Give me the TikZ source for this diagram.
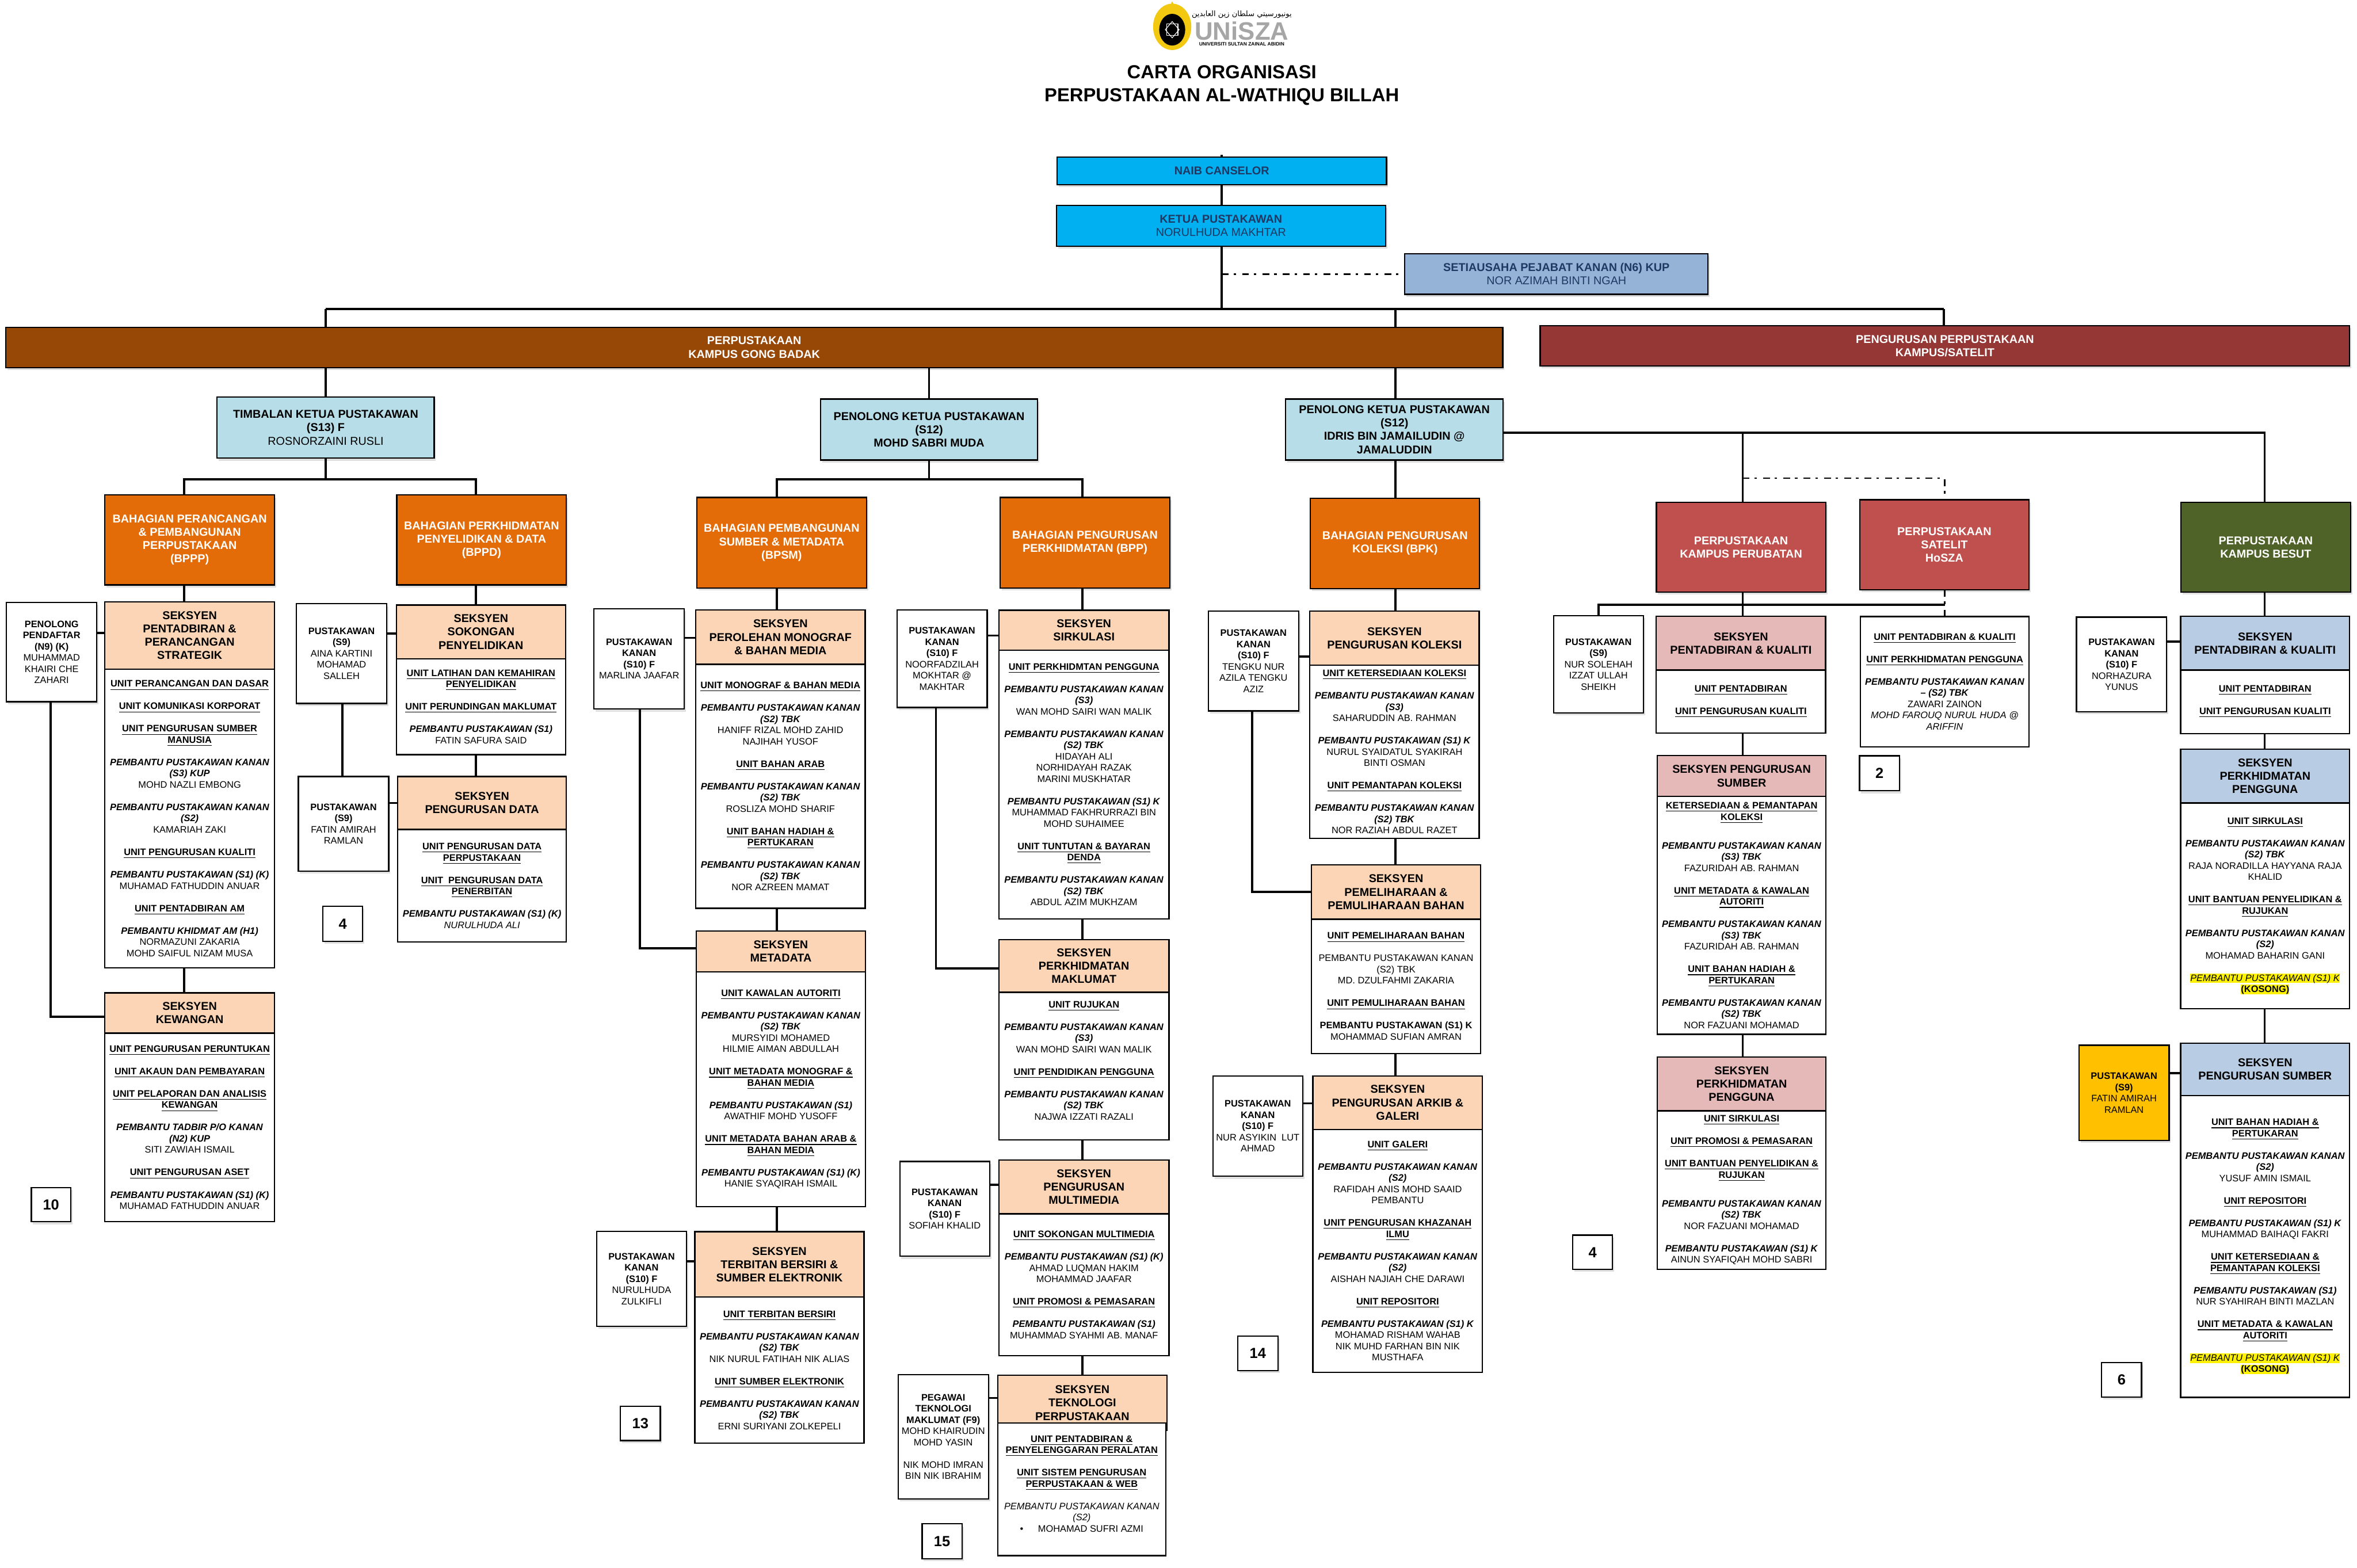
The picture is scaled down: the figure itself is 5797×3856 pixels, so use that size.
\documentclass[tikz,border=0pt]{standalone}
\usepackage{fontspec}
\setmainfont{Liberation Sans}
\newfontfamily\arabicfont[Script=Arabic]{DejaVu Sans}
\TeXXeTstate=1
\usetikzlibrary{shadows}

\definecolor{vcblue}{HTML}{00B0F0}
\definecolor{navytext}{HTML}{1F3864}
\definecolor{setiablue}{HTML}{95B3D7}
\definecolor{gongbrown}{HTML}{974706}
\definecolor{satmaroon}{HTML}{953735}
\definecolor{titleblue}{HTML}{B7DEE8}
\definecolor{bahorange}{HTML}{E36C09}
\definecolor{peach}{HTML}{FBD5B5}
\definecolor{kampusred}{HTML}{C0504D}
\definecolor{pink}{HTML}{E5B9B7}
\definecolor{besutgreen}{HTML}{4F6228}
\definecolor{lightblue}{HTML}{B8CCE4}
\definecolor{amber}{HTML}{FFC000}
\definecolor{logogold}{HTML}{F2C811}
\definecolor{logogrey}{HTML}{A6A6A6}

\newcommand{\fbody}{\fontsize{5.8}{6.9}\selectfont}
\newcommand{\fhead}{\fontsize{7}{8.2}\selectfont\bfseries}
\newcommand{\un}[1]{\underline{\textbf{#1}}}
\newcommand{\pk}[1]{\textbf{\textit{#1}}}
\newcommand{\hl}[1]{{\setlength{\fboxsep}{0pt}\colorbox{yellow}{\rule[-0.9pt]{0pt}{5.6pt}#1}}}

\tikzset{
  orgbox/.style={draw=black,line width=0.8pt,inner sep=0pt,outer sep=0pt,align=center,font=\fbody},
  wh/.style 2 args={minimum width=#1*0.25pt,minimum height=#2*0.25pt},
  shdw/.style={drop shadow={shadow xshift=1pt,shadow yshift=-1.5pt,opacity=.25}},
  topbox/.style={orgbox,shdw,fill=#1,font=\fhead,text=navytext},
  bandbox/.style={orgbox,shdw,fill=#1,font=\fhead,text=white},
  titlebox/.style={orgbox,shdw,fill=titleblue,font=\fhead},
  hdrbox/.style={orgbox,fill=#1,font=\fhead},
  bodybox/.style={orgbox,fill=white},
  stafbox/.style={orgbox,shdw,fill=white},
  numbox/.style={orgbox,shdw,fill=white,font=\fontsize{9}{10}\selectfont\bfseries},
  link/.style={line width=1.3pt},
  dashlink/.style={line width=1pt,dash pattern=on 4.2pt off 3pt on 1.5pt off 3.8pt}
}

\begin{document}
\begin{tikzpicture}[x=0.25pt,y=0.25pt,yscale=-1,xscale=1]
\useasboundingbox (0,0) rectangle (5797,3856);

%Logo
\fill[logogold] (2883,66) ellipse [x radius=47,y radius=57];
\fill[logogold] (2883,3) -- (2873,24) -- (2893,24) -- cycle;
\fill[black] (2883,73) ellipse [x radius=32,y radius=39];
\draw[white,line width=0.4pt] (2883,53) -- (2900,73) -- (2883,93) -- (2866,73) -- cycle;
\draw[white,line width=0.4pt] (2869,59) rectangle (2897,87);
\node[inner sep=0pt,font=\fontsize{4.6}{5}\selectfont] (logojawi) at (3054,36) {\arabicfont\beginR يونيورسيتي سلطان زين العابدين\endR};
\node[inner sep=0pt,text=logogrey,font=\fontsize{15.5}{16}\selectfont\bfseries] (logoname) at (3054,76) {UNiSZA};
\node[inner sep=0pt,font=\fontsize{3}{3}\selectfont\bfseries] (logouni) at (3054,108) {UNIVERSITI SULTAN ZAINAL ABIDIN};

%Title
\node[align=center,inner sep=0pt,font=\fontsize{11.6}{14}\selectfont\bfseries] (title) at (3005,210) {CARTA ORGANISASI\\PERPUSTAKAAN AL-WATHIQU BILLAH};

%Top boxes
\node[topbox=vcblue,wh={810}{68}] (naib) at (3005,420) {NAIB CANSELOR};
\node[topbox=vcblue,wh={810}{101}] (ketua) at (3003,555.5) {KETUA PUSTAKAWAN\\\mdseries NORULHUDA MAKHTAR};
\node[topbox=setiablue,wh={746}{100}] (setia) at (3828,674) {SETIAUSAHA PEJABAT KANAN (N6) KUP\\\mdseries NOR AZIMAH BINTI NGAH};
\node[bandbox=gongbrown,wh={3682}{99}] (gong) at (1855,854.5) {PERPUSTAKAAN\\KAMPUS GONG BADAK};
\node[bandbox=satmaroon,wh={1991}{99}] (satband) at (4783.5,850.5) {PENGURUSAN PERPUSTAKAAN\\KAMPUS/SATELIT};

%Deputies
\node[titlebox,wh={534}{150.5}] (timbalan) at (801,1051.75) {TIMBALAN KETUA PUSTAKAWAN\\(S13) F\\\mdseries ROSNORZAINI RUSLI};
\node[titlebox,wh={534}{150}] (sabri) at (2285,1056.5) {PENOLONG KETUA PUSTAKAWAN\\(S12)\\MOHD SABRI MUDA};
\node[titlebox,wh={535}{150}] (idris) at (3429.5,1056.5) {PENOLONG KETUA PUSTAKAWAN\\(S12)\\IDRIS BIN JAMAILUDIN @\\JAMALUDDIN};

%Bahagian and campus boxes
\node[bandbox=bahorange,wh={417}{221}] (bppp) at (466.5,1328) {BAHAGIAN PERANCANGAN\\\& PEMBANGUNAN\\PERPUSTAKAAN\\(BPPP)};
\node[bandbox=bahorange,wh={417}{221}] (bppd) at (1184.5,1328) {BAHAGIAN PERKHIDMATAN\\PENYELIDIKAN \& DATA\\(BPPD)};
\node[bandbox=bahorange,wh={417}{222.4}] (bpsm) at (1922.5,1334.8) {BAHAGIAN PEMBANGUNAN\\SUMBER \& METADATA\\(BPSM)};
\node[bandbox=bahorange,wh={417}{222.4}] (bpp) at (2668.5,1334.8) {BAHAGIAN PENGURUSAN\\PERKHIDMATAN (BPP)};
\node[bandbox=bahorange,wh={416}{221.5}] (bpk) at (3431,1336.75) {BAHAGIAN PENGURUSAN\\KOLEKSI (BPK)};
\node[bandbox=kampusred,wh={416.5}{220.5}] (perubatan) at (4282,1346) {PERPUSTAKAAN\\KAMPUS PERUBATAN};
\node[bandbox=kampusred,wh={416.5}{221.5}] (satelit) at (4782,1340) {PERPUSTAKAAN\\SATELIT\\HoSZA};
\node[bandbox=besutgreen,wh={417}{220.6}] (besut) at (5572.5,1346.3) {PERPUSTAKAAN\\KAMPUS BESUT};

%BPPP
\node[stafbox,wh={222}{244.5}] (spendaftar) at (127,1603.75) {\textbf{PENOLONG}\\\textbf{PENDAFTAR}\\\textbf{(N9) (K)}\\MUHAMMAD\\KHAIRI CHE\\ZAHARI};
\node[hdrbox=peach,wh={417}{166}] (hstrategik) at (466.5,1563) {SEKSYEN\\PENTADBIRAN \&\\PERANCANGAN\\STRATEGIK};
\node[bodybox,wh={417}{734}] (bstrategik) at (466.5,2013) {\un{UNIT PERANCANGAN DAN DASAR}\\[6.9pt]
  \un{UNIT KOMUNIKASI KORPORAT}\\[6.9pt]
  \un{UNIT PENGURUSAN SUMBER}\\\un{MANUSIA}\\[6.9pt]
  \pk{PEMBANTU PUSTAKAWAN KANAN}\\\pk{(S3) KUP}\\MOHD NAZLI EMBONG\\[6.9pt]
  \pk{PEMBANTU PUSTAKAWAN KANAN}\\\pk{(S2)}\\KAMARIAH ZAKI\\[6.9pt]
  \un{UNIT PENGURUSAN KUALITI}\\[6.9pt]
  \pk{PEMBANTU PUSTAKAWAN (S1) (K)}\\MUHAMAD FATHUDDIN ANUAR\\[6.9pt]
  \un{UNIT PENTADBIRAN AM}\\[6.9pt]
  \pk{PEMBANTU KHIDMAT AM (H1)}\\NORMAZUNI ZAKARIA\\MOHD SAIFUL NIZAM MUSA};
\node[hdrbox=peach,wh={417}{99}] (hkewangan) at (466.5,2491.5) {SEKSYEN\\KEWANGAN};
\node[bodybox,wh={417}{464}] (bkewangan) at (466.5,2773) {\un{UNIT PENGURUSAN PERUNTUKAN}\\[6.9pt]
  \un{UNIT AKAUN DAN PEMBAYARAN}\\[6.9pt]
  \un{UNIT PELAPORAN DAN ANALISIS}\\\un{KEWANGAN}\\[6.9pt]
  \pk{PEMBANTU TADBIR P/O KANAN}\\\pk{(N2) KUP}\\SITI ZAWIAH ISMAIL\\[6.9pt]
  \un{UNIT PENGURUSAN ASET}\\[6.9pt]
  \pk{PEMBANTU PUSTAKAWAN (S1) (K)}\\MUHAMAD FATHUDDIN ANUAR};
\node[numbox,wh={97}{84}] (num10) at (125.5,2963) {10};

%BPPD
\node[stafbox,wh={222}{245}] (saina) at (840,1607.5) {\textbf{PUSTAKAWAN}\\\textbf{(S9)}\\AINA KARTINI\\MOHAMAD\\SALLEH};
\node[hdrbox=peach,wh={416}{132}] (hsokongan) at (1183,1554) {SEKSYEN\\SOKONGAN\\PENYELIDIKAN};
\node[bodybox,wh={416}{236}] (bsokongan) at (1183,1738) {\un{UNIT LATIHAN DAN KEMAHIRAN}\\\un{PENYELIDIKAN}\\[6.9pt]
  \un{UNIT PERUNDINGAN MAKLUMAT}\\[6.9pt]
  \pk{PEMBANTU PUSTAKAWAN (S1)}\\FATIN SAFURA SAID};
\node[stafbox,wh={222}{233}] (sfatin) at (845,2026.5) {\textbf{PUSTAKAWAN}\\\textbf{(S9)}\\FATIN AMIRAH\\RAMLAN};
\node[hdrbox=peach,wh={415}{130}] (hdata) at (1185.5,1975) {SEKSYEN\\PENGURUSAN DATA};
\node[bodybox,wh={415}{277}] (bdata) at (1185.5,2178.5) {\un{UNIT PENGURUSAN DATA}\\\un{PERPUSTAKAAN}\\[6.9pt]
  \un{UNIT\ \ PENGURUSAN DATA}\\\un{PENERBITAN}\\[6.9pt]
  \pk{PEMBANTU PUSTAKAWAN (S1) (K)}\\\textit{NURULHUDA ALI}};
\node[numbox,wh={98}{86}] (num4a) at (843,2272) {4};

%BPSM
\node[stafbox,wh={222}{247}] (smarlina) at (1572,1620.5) {\textbf{PUSTAKAWAN}\\\textbf{KANAN}\\\textbf{(S10) F}\\MARLINA JAAFAR};
\node[hdrbox=peach,wh={417}{134}] (hperolehan) at (1919.5,1567) {SEKSYEN\\PEROLEHAN MONOGRAF\\\& BAHAN MEDIA};
\node[bodybox,wh={417}{600}] (bperolehan) at (1919.5,1934) {\un{UNIT MONOGRAF \& BAHAN MEDIA}\\[6.9pt]
  \pk{PEMBANTU PUSTAKAWAN KANAN}\\\pk{(S2) TBK}\\HANIFF RIZAL MOHD ZAHID\\NAJIHAH YUSOF\\[6.9pt]
  \un{UNIT BAHAN ARAB}\\[6.9pt]
  \pk{PEMBANTU PUSTAKAWAN KANAN}\\\pk{(S2) TBK}\\ROSLIZA MOHD SHARIF\\[6.9pt]
  \un{UNIT BAHAN HADIAH \&}\\\un{PERTUKARAN}\\[6.9pt]
  \pk{PEMBANTU PUSTAKAWAN KANAN}\\\pk{(S2) TBK}\\NOR AZREEN MAMAT};
\node[hdrbox=peach,wh={417}{100}] (hmetadata) at (1920.5,2340) {SEKSYEN\\METADATA};
\node[bodybox,wh={417}{578}] (bmetadata) at (1920.5,2679) {\un{UNIT KAWALAN AUTORITI}\\[6.9pt]
  \pk{PEMBANTU PUSTAKAWAN KANAN}\\\pk{(S2) TBK}\\MURSYIDI MOHAMED\\HILMIE AIMAN ABDULLAH\\[6.9pt]
  \un{UNIT METADATA MONOGRAF \&}\\\un{BAHAN MEDIA}\\[6.9pt]
  \pk{PEMBANTU PUSTAKAWAN (S1)}\\AWATHIF MOHD YUSOFF\\[6.9pt]
  \un{UNIT METADATA BAHAN ARAB \&}\\\un{BAHAN MEDIA}\\[6.9pt]
  \pk{PEMBANTU PUSTAKAWAN (S1) (K)}\\HANIE SYAQIRAH ISMAIL};
\node[stafbox,wh={220}{233}] (snurulhuda) at (1578,3145.5) {\textbf{PUSTAKAWAN}\\\textbf{KANAN}\\\textbf{(S10) F}\\NURULHUDA\\ZULKIFLI};
\node[hdrbox=peach,wh={416}{161.6}] (hterbitan) at (1917,3110) {SEKSYEN\\TERBITAN BERSIRI \&\\SUMBER ELEKTRONIK};
\node[bodybox,wh={416}{359}] (bterbitan) at (1917,3370) {\un{UNIT TERBITAN BERSIRI}\\[6.9pt]
  \pk{PEMBANTU PUSTAKAWAN KANAN}\\\pk{(S2) TBK}\\NIK NURUL FATIHAH NIK ALIAS\\[6.9pt]
  \un{UNIT SUMBER ELEKTRONIK}\\[6.9pt]
  \pk{PEMBANTU PUSTAKAWAN KANAN}\\\pk{(S2) TBK}\\ERNI SURIYANI ZOLKEPELI};
\node[numbox,wh={98}{84}] (num13) at (1575,3501) {13};

%BPP
\node[stafbox,wh={222}{240}] (snoor) at (2317,1620) {\textbf{PUSTAKAWAN}\\\textbf{KANAN}\\\textbf{(S10) F}\\NOORFADZILAH\\MOKHTAR @\\MAKHTAR};
\node[hdrbox=peach,wh={418}{98}] (hsirkulasi) at (2666,1550) {SEKSYEN\\SIRKULASI};
\node[bodybox,wh={418}{661}] (bsirkulasi) at (2666,1929.5) {\un{UNIT PERKHIDMTAN PENGGUNA}\\[6.9pt]
  \pk{PEMBANTU PUSTAKAWAN KANAN}\\\pk{(S3)}\\WAN MOHD SAIRI WAN MALIK\\[6.9pt]
  \pk{PEMBANTU PUSTAKAWAN KANAN}\\\pk{(S2) TBK}\\HIDAYAH ALI\\NORHIDAYAH RAZAK\\MARINI MUSKHATAR\\[6.9pt]
  \pk{PEMBANTU PUSTAKAWAN (S1) K}\\MUHAMMAD FAKHRURRAZI BIN\\MOHD SUHAIMEE\\[6.9pt]
  \un{UNIT TUNTUTAN \& BAYARAN}\\\un{DENDA}\\[6.9pt]
  \pk{PEMBANTU PUSTAKAWAN KANAN}\\\pk{(S2) TBK}\\ABDUL AZIM MUKHZAM};
\node[hdrbox=peach,wh={418}{129}] (hmaklumat) at (2666,2376) {SEKSYEN\\PERKHIDMATAN\\MAKLUMAT};
\node[bodybox,wh={418}{363.4}] (bmaklumat) at (2666,2622.3) {\un{UNIT RUJUKAN}\\[6.9pt]
  \pk{PEMBANTU PUSTAKAWAN KANAN}\\\pk{(S3)}\\WAN MOHD SAIRI WAN MALIK\\[6.9pt]
  \un{UNIT PENDIDIKAN PENGGUNA}\\[6.9pt]
  \pk{PEMBANTU PUSTAKAWAN KANAN}\\\pk{(S2) TBK}\\NAJWA IZZATI RAZALI\\~};
\node[stafbox,wh={221}{233.4}] (ssofiah) at (2323.5,2973.3) {\textbf{PUSTAKAWAN}\\\textbf{KANAN}\\\textbf{(S10) F}\\SOFIAH KHALID};
\node[hdrbox=peach,wh={418}{132}] (hmultimedia) at (2666,2919.6) {SEKSYEN\\PENGURUSAN\\MULTIMEDIA};
\node[bodybox,wh={418}{348}] (bmultimedia) at (2666,3160) {\un{UNIT SOKONGAN MULTIMEDIA}\\[6.9pt]
  \pk{PEMBANTU PUSTAKAWAN (S1) (K)}\\AHMAD LUQMAN HAKIM\\MOHAMMAD JAAFAR\\[6.9pt]
  \un{UNIT PROMOSI \& PEMASARAN}\\[6.9pt]
  \pk{PEMBANTU PUSTAKAWAN (S1)}\\MUHAMMAD SYAHMI AB. MANAF};
\node[stafbox,wh={222}{305.5}] (spegawai) at (2320,3533.75) {\textbf{PEGAWAI}\\\textbf{TEKNOLOGI}\\\textbf{MAKLUMAT (F9)}\\MOHD KHAIRUDIN\\MOHD YASIN\\[6.9pt]NIK MOHD IMRAN\\BIN NIK IBRAHIM};
\node[hdrbox=peach,wh={416}{135}] (hteknologi) at (2662,3450.5) {SEKSYEN\\TEKNOLOGI\\PERPUSTAKAAN};
\node[bodybox,wh={413}{326}] (bteknologi) at (2660.5,3663) {\un{UNIT PENTADBIRAN \&}\\\un{PENYELENGGARAN PERALATAN}\\[6.9pt]
  \un{UNIT SISTEM PENGURUSAN}\\\un{PERPUSTAKAAN \& WEB}\\[6.9pt]
  \textit{PEMBANTU PUSTAKAWAN KANAN}\\\textit{(S2)}\\\textbullet\hspace{9pt}MOHAMAD SUFRI AZMI\\~};
\node[numbox,wh={98}{86}] (num15) at (2317,3791) {15};

%BPK
\node[stafbox,wh={222}{245.5}] (stengku) at (3083,1625.75) {\textbf{PUSTAKAWAN}\\\textbf{KANAN}\\\textbf{(S10) F}\\TENGKU NUR\\AZILA TENGKU\\AZIZ};
\node[hdrbox=peach,wh={416.5}{133}] (hkoleksi) at (3429.75,1569.5) {SEKSYEN\\PENGURUSAN KOLEKSI};
\node[bodybox,wh={416.5}{426}] (bkoleksi) at (3429.75,1849) {\un{UNIT KETERSEDIAAN KOLEKSI}\\[6.9pt]
  \pk{PEMBANTU PUSTAKAWAN KANAN}\\\pk{(S3)}\\SAHARUDDIN AB. RAHMAN\\[6.9pt]
  \pk{PEMBANTU PUSTAKAWAN (S1) K}\\NURUL SYAIDATUL SYAKIRAH\\BINTI OSMAN\\[6.9pt]
  \un{UNIT PEMANTAPAN KOLEKSI}\\[6.9pt]
  \pk{PEMBANTU PUSTAKAWAN KANAN}\\\pk{(S2) TBK}\\NOR RAZIAH ABDUL RAZET};
\node[hdrbox=peach,wh={417}{134}] (hpemuliharaan) at (3433.5,2194) {SEKSYEN\\PEMELIHARAAN \&\\PEMULIHARAAN BAHAN};
\node[bodybox,wh={417}{330}] (bpemuliharaan) at (3433.5,2426) {\un{UNIT PEMELIHARAAN BAHAN}\\[6.9pt]
  PEMBANTU PUSTAKAWAN KANAN\\(S2) TBK\\MD. DZULFAHMI ZAKARIA\\[6.9pt]
  \un{UNIT PEMULIHARAAN BAHAN}\\[6.9pt]
  \textbf{PEMBANTU PUSTAKAWAN (S1) K}\\MOHAMMAD SUFIAN AMRAN};
\node[stafbox,wh={221}{246.5}] (sasyikin) at (3093.5,2770) {\textbf{PUSTAKAWAN}\\\textbf{KANAN}\\\textbf{(S10) F}\\NUR ASYIKIN\ \ LUT\\AHMAD};
\node[hdrbox=peach,wh={417}{131.6}] (harkib) at (3437.5,2712) {SEKSYEN\\PENGURUSAN ARKIB \&\\GALERI};
\node[bodybox,wh={417}{597}] (barkib) at (3437.5,3076.5) {\un{UNIT GALERI}\\[6.9pt]
  \pk{PEMBANTU PUSTAKAWAN KANAN}\\\pk{(S2)}\\RAFIDAH ANIS MOHD SAAID\\PEMBANTU\\[6.9pt]
  \un{UNIT PENGURUSAN KHAZANAH}\\\un{ILMU}\\[6.9pt]
  \pk{PEMBANTU PUSTAKAWAN KANAN}\\\pk{(S2)}\\AISHAH NAJIAH CHE DARAWI\\[6.9pt]
  \un{UNIT REPOSITORI}\\[6.9pt]
  \pk{PEMBANTU PUSTAKAWAN (S1) K}\\MOHAMAD RISHAM WAHAB\\NIK MUHD FARHAN BIN NIK\\MUSTHAFA};
\node[numbox,wh={99}{85}] (num14) at (3093.5,3328.5) {14};

%Kampus Perubatan
\node[stafbox,wh={220.6}{239.5}] (ssolehah) at (3931.3,1634) {\textbf{PUSTAKAWAN}\\\textbf{(S9)}\\NUR SOLEHAH\\IZZAT ULLAH\\SHEIKH};
\node[hdrbox=pink,wh={416.5}{132.5}] (hkualitiA) at (4281.75,1582) {SEKSYEN\\PENTADBIRAN \& KUALITI};
\node[bodybox,wh={416.5}{155}] (bkualitiA) at (4281.75,1726) {\un{UNIT PENTADBIRAN}\\[6.9pt]
  \un{UNIT PENGURUSAN KUALITI}};
\node[hdrbox=pink,wh={415}{100.4}] (hsumberA) at (4283.5,1908.8) {SEKSYEN PENGURUSAN\\SUMBER};
\node[bodybox,wh={415}{585}] (bsumberA) at (4283.5,2251.5) {\un{KETERSEDIAAN \& PEMANTAPAN}\\\un{KOLEKSI}\\[10.9pt]
  \pk{PEMBANTU PUSTAKAWAN KANAN}\\\pk{(S3) TBK}\\FAZURIDAH AB. RAHMAN\\[6.9pt]
  \un{UNIT METADATA \& KAWALAN}\\\un{AUTORITI}\\[6.9pt]
  \pk{PEMBANTU PUSTAKAWAN KANAN}\\\pk{(S3) TBK}\\FAZURIDAH AB. RAHMAN\\[6.9pt]
  \un{UNIT BAHAN HADIAH \&}\\\un{PERTUKARAN}\\[6.9pt]
  \pk{PEMBANTU PUSTAKAWAN KANAN}\\\pk{(S2) TBK}\\NOR FAZUANI MOHAMAD};
\node[hdrbox=pink,wh={415}{132}] (hpenggunaA) at (4283.5,2666) {SEKSYEN\\PERKHIDMATAN\\PENGGUNA};
\node[bodybox,wh={415}{390}] (bpenggunaA) at (4283.5,2927) {\un{UNIT SIRKULASI}\\[6.9pt]
  \un{UNIT PROMOSI \& PEMASARAN}\\[6.9pt]
  \un{UNIT BANTUAN PENYELIDIKAN \&}\\\un{RUJUKAN}\\[10.9pt]
  \pk{PEMBANTU PUSTAKAWAN KANAN}\\\pk{(S2) TBK}\\NOR FAZUANI MOHAMAD\\[6.9pt]
  \pk{PEMBANTU PUSTAKAWAN (S1) K}\\AINUN SYAFIQAH MOHD SABRI};
\node[numbox,wh={98}{84}] (num4b) at (3917,3080) {4};

%Satelit
\node[bodybox,wh={414}{320.5}] (bsatelit) at (4783,1676.75) {\un{UNIT PENTADBIRAN \& KUALITI}\\[6.9pt]
  \un{UNIT PERKHIDMATAN PENGGUNA}\\[6.9pt]
  \pk{PEMBANTU PUSTAKAWAN KANAN}\\\pk{-- (S2) TBK}\\ZAWARI ZAINON\\\textit{MOHD FAROUQ NURUL HUDA @}\\\textit{ARIFFIN}};
\node[numbox,wh={98}{86}] (num2) at (4622.5,1902) {2};

%Kampus Besut
\node[stafbox,wh={222}{233}] (snorhazura) at (5218,1634.5) {\textbf{PUSTAKAWAN}\\\textbf{KANAN}\\\textbf{(S10) F}\\NORHAZURA\\YUNUS};
\node[hdrbox=lightblue,wh={416}{132}] (hkualitiB) at (5571,1582) {SEKSYEN\\PENTADBIRAN \& KUALITI};
\node[bodybox,wh={416}{156}] (bkualitiB) at (5571,1726) {\un{UNIT PENTADBIRAN}\\[6.9pt]
  \un{UNIT PENGURUSAN KUALITI}};
\node[hdrbox=lightblue,wh={416}{132.5}] (hpenggunaB) at (5571,1908.75) {SEKSYEN\\PERKHIDMATAN\\PENGGUNA};
\node[bodybox,wh={416}{506}] (bpenggunaB) at (5571,2228) {\un{UNIT SIRKULASI}\\[6.9pt]
  \pk{PEMBANTU PUSTAKAWAN KANAN}\\\pk{(S2) TBK}\\RAJA NORADILLA HAYYANA RAJA\\KHALID\\[6.9pt]
  \un{UNIT BANTUAN PENYELIDIKAN \&}\\\un{RUJUKAN}\\[6.9pt]
  \pk{PEMBANTU PUSTAKAWAN KANAN}\\\pk{(S2)}\\MOHAMAD BAHARIN GANI\\[6.9pt]
  \hl{\textit{PEMBANTU PUSTAKAWAN (S1) K}}\\\hl{\textbf{(KOSONG)}}};
\node[orgbox,shdw,fill=amber,wh={222}{234}] (sfatinb) at (5224,2688) {\textbf{PUSTAKAWAN}\\\textbf{(S9)}\\FATIN AMIRAH\\RAMLAN};
\node[hdrbox=lightblue,wh={416}{129}] (hsumberB) at (5571,2630) {SEKSYEN\\PENGURUSAN SUMBER};
\node[bodybox,wh={416}{742}] (bsumberB) at (5571,3066) {\un{UNIT BAHAN HADIAH \&}\\\un{PERTUKARAN}\\[6.9pt]
  \pk{PEMBANTU PUSTAKAWAN KANAN}\\\pk{(S2)}\\YUSUF AMIN ISMAIL\\[6.9pt]
  \un{UNIT REPOSITORI}\\[6.9pt]
  \pk{PEMBANTU PUSTAKAWAN (S1) K}\\MUHAMMAD BAIHAQI FAKRI\\[6.9pt]
  \un{UNIT KETERSEDIAAN \&}\\\un{PEMANTAPAN KOLEKSI}\\[6.9pt]
  \pk{PEMBANTU PUSTAKAWAN (S1)}\\NUR SYAHIRAH BINTI MAZLAN\\[6.9pt]
  \un{UNIT METADATA \& KAWALAN}\\\un{AUTORITI}\\[6.9pt]
  \hl{\textit{PEMBANTU PUSTAKAWAN (S1) K}}\\\hl{\textbf{(KOSONG)}}};
\node[numbox,wh={98}{85}] (num6) at (5218,3394) {6};

%Line positions
\coordinate (busC) at (3005,760);
\coordinate (busW) at (801,760);
\coordinate (busE) at (4781,760);
\coordinate (trkA) at (453,1178.5);
\coordinate (trkB) at (1170,1178.5);
\coordinate (trkC) at (1911,1179);
\coordinate (trkD) at (2662,1179);
\coordinate (trkE) at (3432,1064);
\coordinate (trkF) at (4286,1064);
\coordinate (trkG) at (5570,1064);
\coordinate (trkH) at (4783,1176);
\coordinate (barP) at (4783,1487);
\coordinate (stfA) at (125,2501);
\coordinate (stfB) at (842,1910);
\coordinate (stfC) at (1574,2332);
\coordinate (stfD) at (2302,2382);
\coordinate (stfE) at (3080,2194);

%Top lines
\draw[link] (naib.north) -- ++(0,-6);
\draw[link] (naib.south) -- (naib.south |- ketua.north);
\draw[link] (ketua.south -| busC) -- (busC);
\draw[dashlink,shorten >=2.5pt] (busC |- setia.west) -- (setia.west);
\draw[link] (busW) -- (busE);
\draw[link] (busW) -- (busW |- gong.north);
\draw[link] (busE) -- (busE |- satband.north);
\draw[link] (busC -| trkE) -- (gong.north -| trkE);
\draw[link] (gong.south -| timbalan.north) -- (timbalan.north);
\draw[link] (gong.south -| sabri.north) -- (sabri.north);
\draw[link] (gong.south -| trkE) -- (idris.north -| trkE);

%Deputy lines
\draw[link] (timbalan.south) -- (timbalan.south |- trkA);
\draw[link] (bppp.north -| trkA) -- (trkA) -- (trkB) -- (bppd.north -| trkB);
\draw[link] (sabri.south) -- (sabri.south |- trkC);
\draw[link] (bpsm.north -| trkC) -- (trkC) -- (trkD) -- (bpp.north -| trkD);
\draw[link] (idris.south -| trkE) -- (bpk.north -| trkE);
\draw[link] (idris.east |- trkG) -- (trkG) -- (besut.north -| trkG);
\draw[link] (trkF) -- (perubatan.north -| trkF);
\draw[dashlink] (trkH -| trkF) -- (trkH) -- (satelit.north -| trkH);
\draw[dashlink] (satelit.south -| trkH) -- (bsatelit.north -| trkH);
\draw[link] (ssolehah.north) |- (barP);

%Section lines
\draw[link] (bppp.south -| trkA) -- (hstrategik.north -| trkA);
\draw[link] (bstrategik.south -| trkA) -- (hkewangan.north -| trkA);
\draw[link] (bppd.south -| trkB) -- (hsokongan.north -| trkB);
\draw[link] (bsokongan.south -| trkB) -- (hdata.north -| trkB);
\draw[link] (bpsm.south -| trkC) -- (hperolehan.north -| trkC);
\draw[link] (bperolehan.south -| trkC) -- (hmetadata.north -| trkC);
\draw[link] (bmetadata.south -| trkC) -- (hterbitan.north -| trkC);
\draw[link] (bpp.south -| trkD) -- (hsirkulasi.north -| trkD);
\draw[link] (bsirkulasi.south -| trkD) -- (hmaklumat.north -| trkD);
\draw[link] (bmaklumat.south -| trkD) -- (hmultimedia.north -| trkD);
\draw[link] (bmultimedia.south -| trkD) -- (hteknologi.north -| trkD);
\draw[link] (bpk.south -| trkE) -- (hkoleksi.north -| trkE);
\draw[link] (bkoleksi.south -| trkE) -- (hpemuliharaan.north -| trkE);
\draw[link] (bpemuliharaan.south -| trkE) -- (harkib.north -| trkE);
\draw[link] (perubatan.south -| trkF) -- (hkualitiA.north -| trkF);
\draw[link] (bkualitiA.south -| trkF) -- (hsumberA.north -| trkF);
\draw[link] (bsumberA.south -| trkF) -- (hpenggunaA.north -| trkF);
\draw[link] (besut.south -| trkG) -- (hkualitiB.north -| trkG);
\draw[link] (bkualitiB.south -| trkG) -- (hpenggunaB.north -| trkG);
\draw[link] (bpenggunaB.south -| trkG) -- (hsumberB.north -| trkG);

%Staff lines
\draw[link] (spendaftar.east |- 0,1556.5) -- (hstrategik.west |- 0,1556.5);
\draw[link] (spendaftar.south -| stfA) |- (hkewangan.west |- stfA);
\draw[link] (saina.east |- 0,1558) -- (hsokongan.west |- 0,1558);
\draw[link] (saina.south -| stfB) -- (sfatin.north -| stfB);
\draw[link] (sfatin.east |- hdata) -- (hdata.west);
\draw[link] (smarlina.east |- 0,1568.6) -- (hperolehan.west |- 0,1568.6);
\draw[link] (smarlina.south -| stfC) |- (hmetadata.west |- stfC);
\draw[link] (snurulhuda.east |- 0,3102.5) -- (hterbitan.west |- 0,3102.5);
\draw[link] (snoor.east |- 0,1563) -- (hsirkulasi.west |- 0,1563);
\draw[link] (snoor.south -| stfD) |- (hmaklumat.west |- stfD);
\draw[link] (ssofiah.east |- 0,2914) -- (hmultimedia.west |- 0,2914);
\draw[link] (spegawai.east |- 0,3438.5) -- (hteknologi.west |- 0,3438.5);
\draw[link] (stengku.east |- 0,1615) -- (hkoleksi.west |- 0,1615);
\draw[link] (stengku.south -| stfE) |- (hpemuliharaan.west |- stfE);
\draw[link] (sasyikin.east |- 0,2713.6) -- (harkib.west |- 0,2713.6);
\draw[link] (snorhazura.east |- 0,1578) -- (hkualitiB.west |- 0,1578);
\draw[link] (sfatinb.east |- 0,2639) -- (hsumberB.west |- 0,2639);

\end{tikzpicture}
\end{document}
